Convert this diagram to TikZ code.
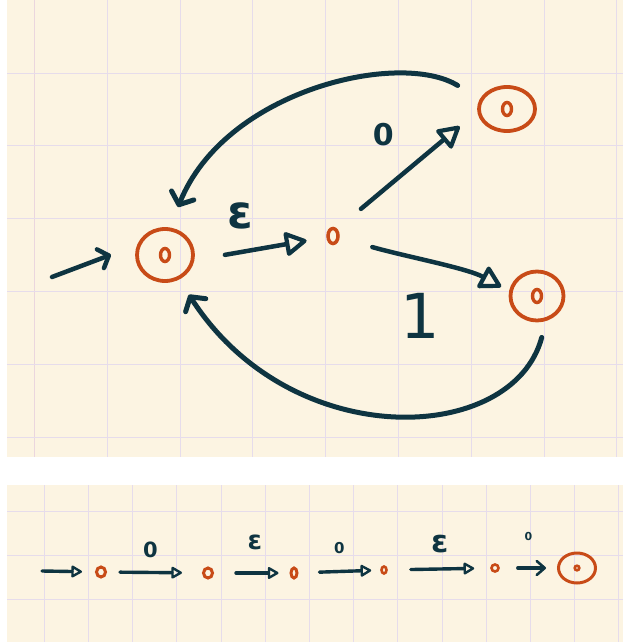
\documentclass[tikz,border=0pt]{standalone}
\usepackage{fontspec}
\newfontfamily\handfont{DejaVu Sans}
\usepackage{tikz}
\usetikzlibrary{shapes,arrows.meta,positioning,calc}
\definecolor{paper}{HTML}{FCF4E2}
\definecolor{gridline}{HTML}{E6DCEB}
\definecolor{margin}{HTML}{EBD6DE}
\definecolor{ink}{HTML}{0E3441}
\definecolor{rust}{HTML}{C84B17}
\begin{document}
\begin{tikzpicture}[x=1pt, y=-1pt,
  dot/.style={ellipse, draw=rust, line width=3pt, inner sep=0pt},
  accept/.style={ellipse, draw=rust, line width=3.8pt, inner sep=0pt,
    path picture={\draw[rust, line width=3.4pt] (path picture bounding box.center) ellipse [x radius=4.5pt, y radius=6.5pt];}},
  acceptsmall/.style={ellipse, draw=rust, line width=3pt, inner sep=0pt,
    path picture={\draw[rust, line width=2.6pt] (path picture bounding box.center) ellipse [x radius=2.3pt, y radius=2.3pt];}},
  lbl/.style={text=ink, inner sep=0pt, font=\handfont\bfseries\fontsize{#1}{#1}\selectfont},
  tri/.style={-{Triangle[open, round, length=24pt, width=26pt, line width=4.2pt]}, draw=ink, line width=4.5pt, line cap=round},
  trismall/.style={-{Triangle[open, round, length=12pt, width=13pt, line width=2.4pt]}, draw=ink, line width=3.4pt, line cap=round},
  barb/.style={-{Straight Barb[round, length=10pt, width=24pt]}, draw=ink, line width=5pt, line cap=round},
  barbsmall/.style={-{Straight Barb[round, length=8pt, width=14pt, line width=2.6pt]}, draw=ink, line width=3.4pt, line cap=round}]
\path[use as bounding box, fill=white] (0,0) rectangle (623,642);
\fill[paper] (7,0) rectangle (623,457);
\fill[paper] (7,485) rectangle (623,642);
\begin{scope}
\clip (7,0) rectangle (623,457);
\foreach \gx in {1,...,8} \draw[gridline, line width=0.9pt] ({34.5+72.8*\gx},0) -- ({34.5+72.8*\gx},457);
\draw[margin, line width=0.9pt] (34.5,0) -- (34.5,457);
\foreach \gy in {0,...,5} \draw[gridline, line width=0.9pt] (7,{73+72.9*\gy}) -- (623,{73+72.9*\gy});
\end{scope}
\begin{scope}
\clip (7,485) rectangle (623,642);
\foreach \gx in {1,...,14} \draw[gridline, line width=0.9pt] ({44.2*\gx},485) -- ({44.2*\gx},642);
\foreach \gy in {0,...,2} \draw[gridline, line width=0.9pt] (7,{511.5+44.2*\gy}) -- (623,{511.5+44.2*\gy});
\end{scope}

\node[accept, minimum width=56pt, minimum height=52pt] (q0) at (165,255) {};
\node[dot, line width=3.5pt, minimum width=10pt, minimum height=15pt] (q1) at (333,236) {};
\node[accept, minimum width=56pt, minimum height=44pt] (q2) at (507,109) {};
\node[accept, minimum width=53pt, minimum height=49pt] (q3) at (537,296) {};
\coordinate (start) at (52,277);

\draw[barb, line width=4.5pt, -{Straight Barb[round, length=9pt, width=20pt]}, shorten >=28pt] (start) -- (q0.160);
\draw[tri, shorten <=31pt, shorten >=20pt] (q0.-10) -- node[lbl=46, pos=0.35, yshift=36pt] {ε} (q1.190);
\draw[tri, shorten <=31pt, shorten >=23pt] (q1.60) -- node[lbl=30, pos=0.45, xshift=-17pt, yshift=41pt] {0} (q2.185);
\draw[tri, shorten <=34pt, shorten >=9pt] (q1.-15) .. controls (405,256.4) and (466.9,268.1) .. node[lbl=62, pos=0.5, xshift=-13pt, yshift=-53pt, font=\handfont\mdseries\fontsize{62}{62}\selectfont] {1} (q3.170);
\draw[barb, shorten <=26pt, shorten >=22pt] (q2.160) .. controls (400,50) and (225,89.8) .. (q0.80);
\draw[barb, shorten <=17pt, shorten >=18pt] (q3.-70) .. controls (513,445.3) and (291.6,454.3) .. (q0.-60);

\node[dot, minimum width=9pt, minimum height=10pt] (b0) at (101,572) {};
\node[dot, minimum width=9pt, minimum height=10pt] (b1) at (208,573) {};
\node[dot, minimum width=6pt, minimum height=10pt] (b2) at (294,573) {};
\node[dot, line width=2.6pt, minimum width=5pt, minimum height=7pt] (b3) at (384,570) {};
\node[dot, line width=2.6pt, minimum width=7pt, minimum height=7pt] (b4) at (495,568) {};
\node[acceptsmall, minimum width=37pt, minimum height=30pt] (bf) at (577,568) {};
\coordinate (bstart) at (42,571);

\draw[trismall, shorten >=13pt] (bstart) -- (b0);
\draw[trismall, shorten <=13pt, shorten >=20pt] (b0) -- node[lbl=21, midway, xshift=-4pt, yshift=23pt] {0} (b1);
\draw[trismall, shorten <=22pt, shorten >=11pt] (b1) -- node[lbl=26, midway, xshift=3pt, yshift=31pt] {ε} (b2);
\draw[trismall, shorten <=21pt, shorten >=9pt] (b2) -- node[lbl=15, midway, yshift=23pt] {0} (b3);
\draw[trismall, shorten <=23pt, shorten >=16pt] (b3) -- node[lbl=31, midway, xshift=1pt, yshift=25pt] {ε} (b4);
\draw[barbsmall, shorten <=18pt, shorten >=11pt] (b4) -- node[lbl=11, midway, yshift=32pt] {0} (bf);
\end{tikzpicture}
\end{document}
